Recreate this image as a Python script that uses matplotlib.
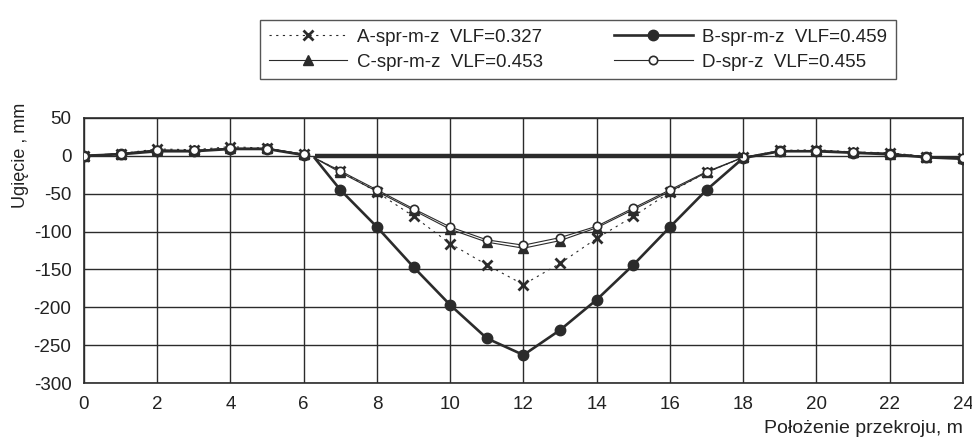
import numpy as np
import matplotlib.pyplot as plt

plt.rcParams['font.family'] = ['Liberation Sans', 'DejaVu Sans']
plt.rcParams['axes.unicode_minus'] = False

# section positions along the beam, m
pos = list(range(0, 25))
mid_start = 6.3          # start of the middle span line
deck_x = [6.3, 18.0]     # reference line of the middle span
deck_y = [0.0, 0.0]

# deflections, mm (values at pos 0..24)
a_vals = [0, 3, 9, 8, 12, 10, 2,
          -20, -48, -80, -116, -144, -170, -142, -109, -80, -48, -22,
          -2, 7, 8, 5, 4, -1, -3]
b_vals = [0, 2, 6, 6, 9, 9, 1,
          -45, -94, -147, -197, -241, -263, -230, -190, -144, -94, -45,
          -3, 6, 6, 4, 2, -2, -4]
c_vals = [0, 3, 8, 7, 10, 10, 2,
          -22, -47, -72, -97, -114, -122, -112, -95, -71, -47, -22,
          -2, 6, 7, 5, 3, -1, -3]
d_vals = [0, 3, 7, 7, 10, 9, 2,
          -20, -45, -70, -94, -111, -118, -108, -93, -69, -45, -21,
          -2, 6, 6, 5, 3, -1, -3]
start_vals = [-3, -3, -3, -3]

labels = ['A-spr-m-z  VLF=0.327', 'B-spr-m-z  VLF=0.459',
          'C-spr-m-z  VLF=0.453', 'D-spr-z  VLF=0.455']

ink = '#2b2b2b'
txt = '#222222'

fig = plt.figure(figsize=(9.72, 4.4), dpi=100)
ax = fig.add_axes([0.0864, 0.1295, 0.9043, 0.6025])


def series_xy(vals, start):
    x = pos[:7] + [np.nan, mid_start] + pos[7:]
    y = vals[:7] + [np.nan, start] + vals[7:]
    marks = list(range(7)) + list(range(9, len(x)))
    return x, y, marks


styles = [
    dict(ls=(0, (2, 4)), lw=0.8, marker='x', ms=7, mew=2.0,
         mfc=ink, mec=ink),
    dict(ls='-', lw=1.9, marker='o', ms=7.5, mfc=ink, mec=ink),
    dict(ls='-', lw=0.8, marker='^', ms=7, mfc=ink, mec=ink),
    dict(ls='-', lw=0.8, marker='o', ms=6, mfc='white', mec=ink, mew=1.2),
]

handles = []
for vals, start, lab, st in zip([a_vals, b_vals, c_vals, d_vals],
                                start_vals, labels, styles):
    x, y, marks = series_xy(vals, start)
    h, = ax.plot(x, y, color=ink, markevery=marks, label=lab, zorder=3, **st)
    handles.append(h)

ax.plot(deck_x, deck_y, color=ink, lw=3.2, solid_capstyle='butt', zorder=4)

ax.set_xlim(0, 24)
ax.set_ylim(-300, 50)
ax.set_xticks(np.arange(0, 25, 2))
ax.set_yticks(np.arange(-300, 51, 50))
ax.grid(True, color=ink, lw=1.0)
ax.set_axisbelow(True)
ax.tick_params(length=0, labelsize=13.5, colors=txt)
ax.tick_params(axis='x', pad=9)
ax.tick_params(axis='y', pad=9)
for sp in ax.spines.values():
    sp.set_color(ink)
    sp.set_linewidth(1.2)

ax.set_xlabel('Położenie przekroju, m', fontsize=14, color=txt)
ax.xaxis.set_label_coords(1.0, -0.138)
ax.xaxis.label.set_horizontalalignment('right')
ax.xaxis.label.set_verticalalignment('top')
ax.set_ylabel('Ugięcie , mm', fontsize=13, color=txt)
ax.yaxis.set_label_coords(-0.062, 0.86)

order = [0, 2, 1, 3]
leg = fig.legend([handles[i] for i in order], [labels[i] for i in order],
                 loc='upper left', bbox_to_anchor=(0.258, 0.975), ncol=2,
                 fontsize=13.5, frameon=True, fancybox=False, shadow=False,
                 handlelength=4.2, handletextpad=0.5, columnspacing=3.8,
                 borderpad=0.45, labelspacing=0.4, edgecolor=ink)
leg.get_frame().set_linewidth(1.0)
for t in leg.get_texts():
    t.set_color(txt)

fig.savefig('out.png', dpi=100)
